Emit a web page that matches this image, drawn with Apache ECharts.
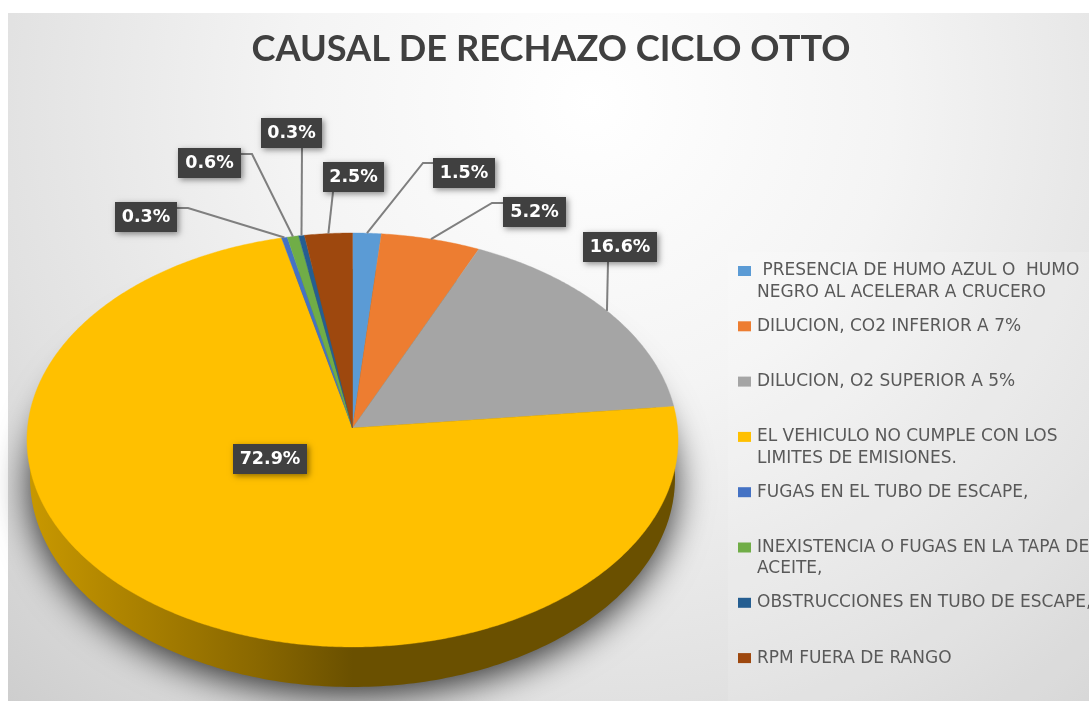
<!DOCTYPE html>
<html>
<head>
<meta charset="utf-8">
<style>html,body{margin:0;padding:0;background:#fff}#c{width:1089px;height:701px}</style>
<script src="https://cdn.jsdelivr.net/npm/echarts@6/dist/echarts.min.js"></script>
</head>
<body>
<div id="c"></div>
<script>
const titleText = 'CAUSAL DE RECHAZO CICLO OTTO';
const categories = [
  ' PRESENCIA DE HUMO AZUL O  HUMO\nNEGRO AL ACELERAR A CRUCERO',
  'DILUCION, CO2 INFERIOR A 7%',
  'DILUCION, O2 SUPERIOR A 5%',
  'EL VEHICULO NO CUMPLE CON LOS\nLIMITES DE EMISIONES.',
  'FUGAS EN EL TUBO DE ESCAPE,',
  'INEXISTENCIA O FUGAS EN LA TAPA DE\nACEITE,',
  'OBSTRUCCIONES EN TUBO DE ESCAPE,',
  'RPM FUERA DE RANGO'
];
const values = [1.5, 5.2, 16.6, 72.9, 0.3, 0.6, 0.3, 2.5];
const colors = ['#5B9BD5', '#ED7D31', '#A5A5A5', '#FFC000', '#4472C4', '#70AD47', '#255E91', '#9E480E'];

// layout of the tilted pie (perspective projection of a circle)
const PIE = {cx: 352.5, cy: 428, a: 325, b: 206.3, k: 0.0579};
const BASE = {cx: 352.5, cy: 478, rx: 322.5, ry: 209};
// label boxes and the elbow points of their leader lines
const labelBoxes = [
  {x: 433, y: 158, w: 62, elbow: [[423, 163], [433, 163]]},
  {x: 503, y: 197, w: 63, elbow: [[492, 203], [503, 203]]},
  {x: 583, y: 232, w: 74, elbow: [[608, 262]]},
  {x: 233, y: 444, w: 74, inside: true},
  {x: 115, y: 202, w: 62, elbow: [[188, 208], [177, 208]]},
  {x: 178, y: 148, w: 63, elbow: [[252, 154], [241, 154]]},
  {x: 261, y: 118, w: 61, elbow: [[302, 147]]},
  {x: 323, y: 162, w: 61, elbow: [[333, 192]]}
];

const total = values.reduce((s, v) => s + v, 0);
function project(deg) {
  const t = deg * Math.PI / 180, w = 1 + PIE.k * Math.cos(t);
  return [PIE.cx + PIE.a * Math.sin(t) / w, PIE.cy - PIE.b * Math.cos(t) / w];
}
function angleAt(i) {
  let s = 0;
  for (let j = 0; j < i; j++) s += values[j];
  return s / total * 360;
}

const sideSeries = {
  type: 'custom', name: '_side', coordinateSystem: 'none', silent: true,
  data: [[0]],
  renderItem: function () {
    const pts = [];
    for (let d = 0; d < 360; d += 1) {
      const t = d * Math.PI / 180;
      pts.push([BASE.cx + BASE.rx * Math.cos(t), BASE.cy + BASE.ry * Math.sin(t)]);
    }
    return {
      type: 'polygon', shape: {points: pts},
      style: {
        fill: {type: 'linear', x: 0, y: 0, x2: 1, y2: 0, colorStops: [
          {offset: 0, color: '#c89800'}, {offset: 0.15, color: '#ad8300'},
          {offset: 0.35, color: '#8a6800'}, {offset: 0.5, color: '#6a5000'}, {offset: 1, color: '#6a5000'}
        ]},
        shadowBlur: 36, shadowColor: 'rgba(0,0,0,0.8)', shadowOffsetY: 8
      }
    };
  }
};

const sliceSeries = categories.map((name, i) => ({
  type: 'custom', name: name, coordinateSystem: 'none', silent: true,
  color: colors[i],
  data: [[values[i]]],
  renderItem: function (params, api) {
    const start = angleAt(i), end = start + api.value(0) / total * 360;
    const pts = [[PIE.cx, PIE.cy]];
    const n = Math.max(2, Math.ceil((end - start) * 2));
    for (let j = 0; j <= n; j++) pts.push(project(start + (end - start) * j / n));
    return {type: 'polygon', shape: {points: pts},
      style: {fill: colors[i], stroke: colors[i], lineWidth: 0.4}};
  }
}));

const labelSeries = {
  type: 'custom', name: '_labels', coordinateSystem: 'none', silent: true,
  data: values.map((v, i) => [v, i]),
  renderItem: function (params, api) {
    const v = api.value(0), i = api.value(1), box = labelBoxes[i];
    const kids = [];
    if (!box.inside) {
      const mid = angleAt(i) + v / total * 180;
      const p = project(mid);
      kids.push({type: 'polyline', shape: {points: [p].concat(box.elbow)},
        style: {fill: 'none', stroke: '#7f7f7f', lineWidth: 2}});
    }
    kids.push({type: 'rect', shape: {x: box.x, y: box.y, width: box.w, height: 30},
      style: {fill: '#404040', shadowBlur: 6, shadowColor: 'rgba(0,0,0,0.45)', shadowOffsetX: 2, shadowOffsetY: 2}});
    kids.push({type: 'text', style: {
      text: v.toFixed(1) + '%', x: box.x + box.w / 2, y: box.y + 15,
      align: 'center', verticalAlign: 'middle', fill: '#fff',
      font: 'bold 17.5px "DejaVu Sans"'}});
    return {type: 'group', children: kids};
  }
};

const chart = echarts.init(document.getElementById('c'), null, {renderer: 'canvas'});
chart.setOption({
  animation: false,
  backgroundColor: '#fff',
  graphic: [
    {type: 'rect', z: -10, silent: true, shape: {x: 8, y: 13, width: 1081, height: 688},
      style: {fill: {type: 'radial', x: 0.54, y: 0.13, r: 1.25, colorStops: [
        {offset: 0, color: '#ffffff'}, {offset: 0.35, color: '#f4f4f4'},
        {offset: 0.7, color: '#e1e1e1'}, {offset: 1, color: '#cccccc'}]}}},
    {type: 'rect', z: -9, silent: true, shape: {x: 728, y: 252, width: 361, height: 449},
      style: {fill: 'rgba(255,255,255,0.12)'}}
  ],
  title: {
    text: titleText, left: 546, top: 26, textAlign: 'center',
    textStyle: {fontFamily: 'Lato', fontWeight: 'bold', fontSize: 36.2, color: '#404040'}
  },
  legend: {
    data: categories, orient: 'vertical', left: 733, top: 233.75,
    icon: 'rect', itemWidth: 13, itemHeight: 10, itemGap: -9.2,
    selectedMode: false,
    formatter: n => ' \n' + (n.indexOf('\n') >= 0 ? n : n + '\n '),
    textStyle: {fontFamily: 'DejaVu Sans', fontSize: 17, color: '#595959', lineHeight: 21.5, padding: [0, 0, 0, 1]}
  },
  series: [sideSeries].concat(sliceSeries, [labelSeries])
});
</script>
</body>
</html>
